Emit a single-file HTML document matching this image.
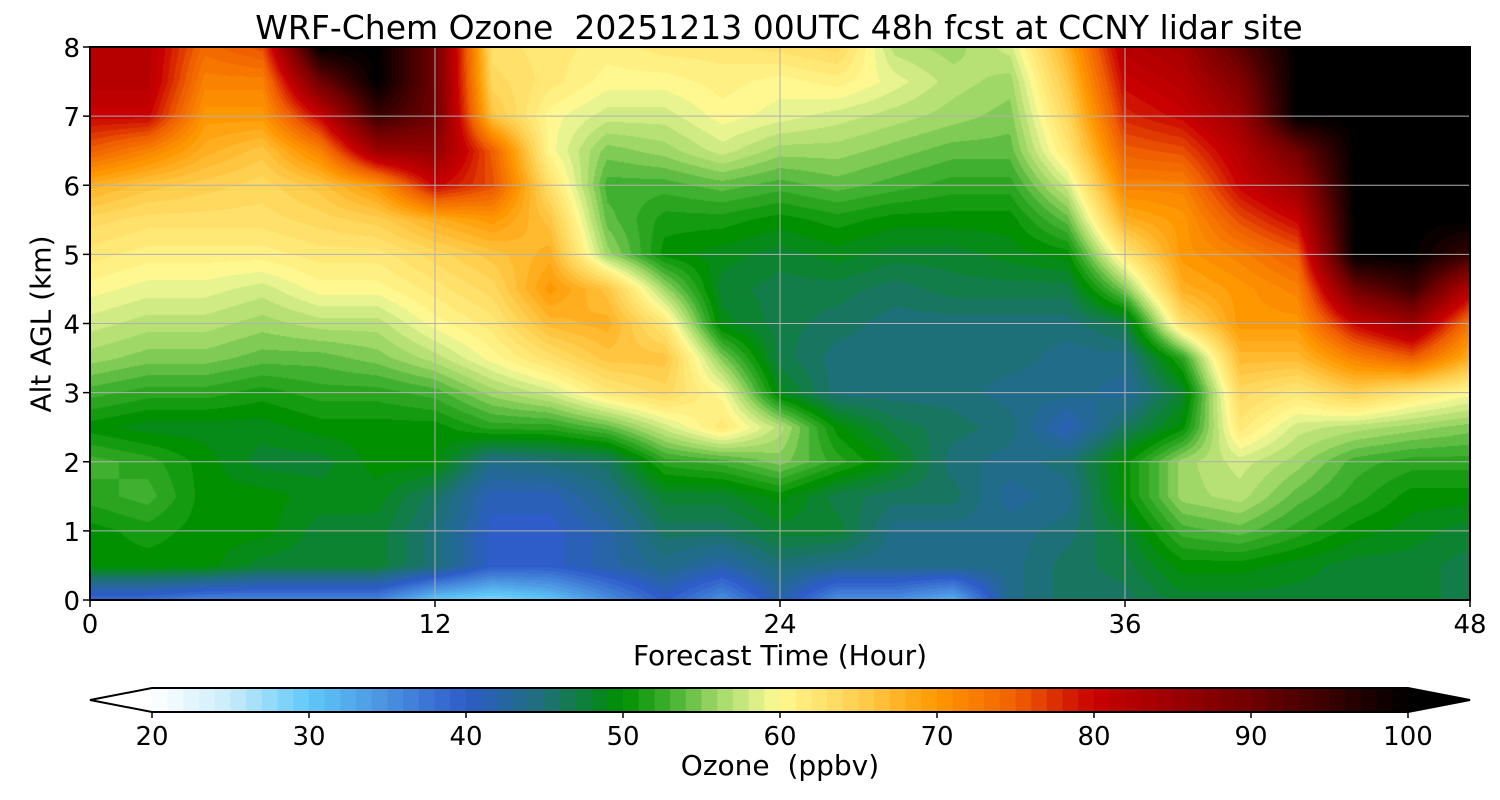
<!DOCTYPE html>
<html><head><meta charset="utf-8">
<style>
body{margin:0;background:#fff;width:1500px;height:800px;position:relative;overflow:hidden;font-family:"DejaVu Sans","Liberation Sans",sans-serif;color:#000}
.t{position:absolute;white-space:nowrap}
</style></head>
<body>
<div class="t" style="left:0;width:1558px;text-align:center;top:8px;font-size:33px">WRF-Chem Ozone&nbsp; 20251213 00UTC 48h fcst at CCNY lidar site</div>
<canvas id="cv" width="1380" height="553" style="position:absolute;left:90px;top:47px"></canvas>
<svg id="sv" width="1500" height="800" style="position:absolute;left:0;top:0"></svg>
<div class="t" style="left:0;width:1560px;text-align:center;top:639px;font-size:28px">Forecast Time (Hour)</div>
<div class="t" style="left:41px;top:324px;font-size:28px;transform:translate(-50%,-50%) rotate(-90deg)">Alt AGL (km)</div>
<div class="t" style="left:0;width:1560px;text-align:center;top:749px;font-size:28px">Ozone&nbsp; (ppbv)</div>
<script>
const times=[0,2,4,6,8,10,12,14,16,18,20,22,24,26,28,30,32,34,36,38,40,42,44,46,48];
const alts=[0,0.5,1,1.5,2,2.5,3,3.5,4,4.5,5,5.5,6,6.5,7,7.5,8];
const ozone=[
[38,50,50,52,53,50,53,56,58,60,62,64,68,75,80,82,82],
[38,50,51,53,52,49,52,55,57,59,61,63,66,72,80,82,82],
[36,50,50,50,50,49,52,55,57,59,61,63,65,68,70,72,74],
[36,48,50,50,48,49,51,54,56,58,61,63,64,66,70,72,76],
[36,48,48,49,48,50,52,54,57,60,62,64,66,72,80,90,100],
[36,48,48,49,50,50,52,55,57,60,62,65,70,85,95,100,100],
[30,45,45,46,50,50,53,57,60,62,64,68,80,86,90,90,90],
[28,40,40,41,44,52,56,60,62,64,66,70,76,75,66,64,63],
[30,40,40,41,45,52,58,63,67,70,68,66,63,60,60,62,62],
[35,42,42,44,46,54,62,66,68,66,56,54,53,55,58,60,61],
[40,44,46,48,52,58,64,66,62,56,50,51,53,56,58,60,62],
[35,42,46,48,53,62,60,55,49,48,49,51,54,58,60,61,62],
[42,45,48,50,55,57,49,47,47,47,48,50,53,56,59,60,63],
[35,44,48,47,52,50,45,45,46,47,49,51,54,56,58,61,64],
[35,44,44,46,49,47,45,45,45,46,48,50,53,55,57,59,57],
[32,44,44,46,45,46,45,45,45,47,48,50,52,54,56,57,56],
[44,44,44,43,44,45,44,45,45,47,49,50,52,54,55,56,58],
[46,46,45,44,45,41,44,44,45,47,50,54,58,62,64,66,68],
[46,47,48,50,50,46,43,44,47,55,62,68,72,75,78,80,82],
[48,50,53,56,56,50,48,52,63,68,70,70,72,76,80,82,84],
[48,50,54,57,58,62,64,67,70,70,72,76,80,82,85,88,92],
[48,49,52,54,56,58,62,67,70,72,75,80,85,90,100,100,100],
[48,48,50,52,53,57,65,72,80,90,100,100,100,100,100,100,100],
[48,48,49,50,52,56,62,75,85,95,100,100,100,100,100,100,100],
[47,47,48,50,52,55,60,68,73,82,95,100,100,100,100,100,100]];
const xTicks=[0,12,24,36,48];
const yTicks=[0,1,2,3,4,5,6,7,8];
const cbTicks=[20,30,40,50,60,70,80,90,100];
const stops=[[20,'#ffffff'],[25,'#c8ecfa'],[30,'#60c8f8'],[35,'#4a90e0'],[40,'#2e5cc8'],[45,'#1e7078'],[50,'#009000'],[53,'#40b030'],[56,'#a0d868'],[59,'#e8f490'],[60,'#fff890'],[65,'#ffd050'],[70,'#ff9800'],[75,'#f06000'],[80,'#c80000'],[90,'#700000'],[100,'#000000']];
const hx=h=>[1,3,5].map(i=>parseInt(h.substr(i,2),16));
function cmap(v){v=Math.max(20,Math.min(100,v));for(let i=0;i<stops.length-1;i++){if(v<=stops[i+1][0]){const a=hx(stops[i][1]),b=hx(stops[i+1][1]),f=(v-stops[i][0])/(stops[i+1][0]-stops[i][0]);return a.map((c,k)=>Math.round(c+(b[k]-c)*f));}}return [0,0,0];}
const X0=90,X1=1470,Y0=47,Y1=600;
const xs=t=>X0+(t-0)/48*(X1-X0), ys=z=>Y1-z/8*(Y1-Y0);
const cv=document.getElementById('cv'),ctx=cv.getContext('2d'),W=cv.width,H=cv.height;
const img=ctx.createImageData(W,H);
const lut=[];for(let v=20;v<=100;v++)lut.push(cmap(v));
for(let py=0;py<H;py++){const z=(H-py-0.5)/H*8;let j=0;while(j<alts.length-2&&alts[j+1]<z)j++;const fz=Math.max(0,Math.min(1,(z-alts[j])/(alts[j+1]-alts[j])));
for(let px=0;px<W;px++){const t=(px+0.5)/W*48;let i=0;while(i<times.length-2&&times[i+1]<t)i++;const ft=(t-times[i])/(times[i+1]-times[i]);
const v=(ozone[i][j]*(1-ft)+ozone[i+1][j]*ft)*(1-fz)+(ozone[i][j+1]*(1-ft)+ozone[i+1][j+1]*ft)*fz;
const q=Math.max(20,Math.min(100,Math.round(v)))-20;const c=lut[q];const o=(py*W+px)*4;img.data[o]=c[0];img.data[o+1]=c[1];img.data[o+2]=c[2];img.data[o+3]=255;}}
ctx.putImageData(img,0,0);
const sv=document.getElementById('sv'),NS='http://www.w3.org/2000/svg';
function el(tag,attrs,name,txt){const e=document.createElementNS(NS,tag);for(const k in attrs)e.setAttribute(k,attrs[k]);


if(txt!==undefined)e.textContent=txt;sv.appendChild(e);return e;}
const FF='DejaVu Sans, Liberation Sans, sans-serif';
xTicks.forEach(t=>{const x=xs(t);if(t>0&&t<48)el('line',{x1:x,x2:x,y1:Y0,y2:Y1,stroke:'#b0b0b0','stroke-width':1},'x-gridline');
el('line',{x1:x,x2:x,y1:Y1,y2:Y1+7,stroke:'#000','stroke-width':1.5},'x-tick');
el('text',{x:x,y:Y1+33,'font-size':26,'text-anchor':'middle','font-family':FF},'x-tick-label',t);});
yTicks.forEach(z=>{const y=ys(z);if(z>0&&z<8)el('line',{x1:X0,x2:X1,y1:y,y2:y,stroke:'#b0b0b0','stroke-width':1},'y-gridline');
el('line',{x1:X0-7,x2:X0,y1:y,y2:y,stroke:'#000','stroke-width':1.5},'y-tick');
el('text',{x:X0-10,y:y+10,'font-size':26,'text-anchor':'end','font-family':FF},'y-tick-label',z);});
el('rect',{x:X0,y:Y0,width:X1-X0,height:Y1-Y0,fill:'none',stroke:'#000','stroke-width':2},'plot-frame');
const C0=152,C1=1408,CT=688,CB=712,cx=v=>C0+(v-20)/80*(C1-C0);
el('polygon',{points:`${C0},${CT} ${C0},${CB} 90,${(CT+CB)/2}`,fill:'#fff'},'colorbar-min-extend');
el('polygon',{points:`${C1},${CT} ${C1},${CB} 1470,${(CT+CB)/2}`,fill:'#000'},'colorbar-max-extend');
for(let v=20;v<100;v++){const c=cmap(v+0.5);el('rect',{x:cx(v),y:CT,width:(C1-C0)/80+0.6,height:CB-CT,fill:`rgb(${c})`},'colorbar-segment');}
el('polygon',{points:`90,${(CT+CB)/2} ${C0},${CT} ${C1},${CT} 1470,${(CT+CB)/2} ${C1},${CB} ${C0},${CB}`,fill:'none',stroke:'#000','stroke-width':2},'colorbar-outline');
cbTicks.forEach(v=>{const x=cx(v);el('line',{x1:x,x2:x,y1:CB,y2:CB+6,stroke:'#000','stroke-width':1.5},'colorbar-tick');
el('text',{x:x,y:CB+33,'font-size':26,'text-anchor':'middle','font-family':FF},'colorbar-tick-label',v);});
</script>
</body></html>
